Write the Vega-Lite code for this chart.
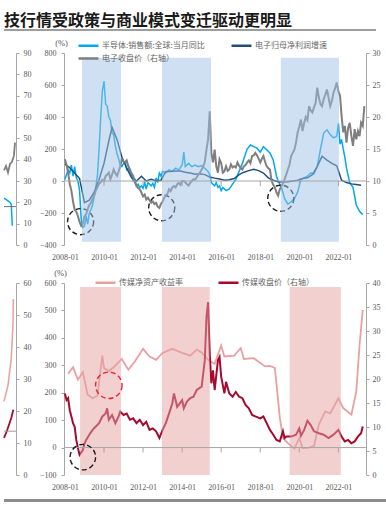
{
"$schema": "https://vega.github.io/schema/vega-lite/v6.json",
"padding": {"left": 0, "top": 12, "right": 0, "bottom": 0},
"background": "white",
"config": {
 "view": {"stroke": null},
 "axis": {"labelFont": "Liberation Serif", "labelFontSize": 8, "labelColor": "#595959", "domainColor": "#a6a6a6", "tickColor": "#a6a6a6", "tickSize": 3, "grid": false, "titleFont": "Liberation Serif"}
},
"datasets": {
 "top": [
{"d":"2008-01","s":"a","v":10},{"d":"2008-02","s":"a","v":40},{"d":"2008-03","s":"a","v":70},{"d":"2008-04","s":"a","v":50},{"d":"2008-05","s":"a","v":100},{"d":"2008-06","s":"a","v":30},{"d":"2008-07","s":"a","v":90},{"d":"2008-08","s":"a","v":20},{"d":"2008-09","s":"a","v":0},{"d":"2008-10","s":"a","v":-60},{"d":"2008-11","s":"a","v":-240},{"d":"2008-12","s":"a","v":-290},
{"d":"2009-01","s":"a","v":-280},{"d":"2009-02","s":"a","v":-220},{"d":"2009-03","s":"a","v":-270},{"d":"2009-04","s":"a","v":-200},{"d":"2009-05","s":"a","v":-180},{"d":"2009-06","s":"a","v":-150},{"d":"2009-07","s":"a","v":-100},{"d":"2009-08","s":"a","v":-40},{"d":"2009-09","s":"a","v":40},{"d":"2009-10","s":"a","v":200},{"d":"2009-11","s":"a","v":400},{"d":"2009-12","s":"a","v":560},
{"d":"2010-01","s":"a","v":625},{"d":"2010-02","s":"a","v":480},{"d":"2010-03","s":"a","v":470},{"d":"2010-04","s":"a","v":400},{"d":"2010-05","s":"a","v":380},{"d":"2010-06","s":"a","v":300},{"d":"2010-07","s":"a","v":290},{"d":"2010-08","s":"a","v":220},{"d":"2010-09","s":"a","v":170},{"d":"2010-10","s":"a","v":140},{"d":"2010-11","s":"a","v":100},{"d":"2010-12","s":"a","v":90},
{"d":"2011-01","s":"a","v":110},{"d":"2011-02","s":"a","v":120},{"d":"2011-03","s":"a","v":70},{"d":"2011-04","s":"a","v":80},{"d":"2011-05","s":"a","v":50},{"d":"2011-06","s":"a","v":40},{"d":"2011-07","s":"a","v":0},{"d":"2011-08","s":"a","v":10},{"d":"2011-09","s":"a","v":-30},{"d":"2011-10","s":"a","v":-20},{"d":"2011-11","s":"a","v":-40},{"d":"2011-12","s":"a","v":-30},
{"d":"2012-01","s":"a","v":-45},{"d":"2012-02","s":"a","v":-10},{"d":"2012-03","s":"a","v":-50},{"d":"2012-04","s":"a","v":-10},{"d":"2012-05","s":"a","v":-20},{"d":"2012-06","s":"a","v":-30},{"d":"2012-07","s":"a","v":-15},{"d":"2012-08","s":"a","v":-40},{"d":"2012-09","s":"a","v":20},{"d":"2012-10","s":"a","v":-10},{"d":"2012-11","s":"a","v":50},{"d":"2012-12","s":"a","v":30},
{"d":"2013-01","s":"a","v":60},{"d":"2013-03","s":"a","v":50},{"d":"2013-05","s":"a","v":70},{"d":"2013-07","s":"a","v":60},{"d":"2013-09","s":"a","v":80},{"d":"2013-11","s":"a","v":70},{"d":"2014-01","s":"a","v":100},{"d":"2014-02","s":"a","v":180},{"d":"2014-03","s":"a","v":90},{"d":"2014-05","s":"a","v":110},{"d":"2014-07","s":"a","v":90},{"d":"2014-09","s":"a","v":100},{"d":"2014-11","s":"a","v":90},
{"d":"2015-01","s":"a","v":95},{"d":"2015-03","s":"a","v":80},{"d":"2015-05","s":"a","v":60},{"d":"2015-06","s":"a","v":40},{"d":"2015-07","s":"a","v":-10},{"d":"2015-08","s":"a","v":-20},{"d":"2015-09","s":"a","v":-30},{"d":"2015-10","s":"a","v":-10},{"d":"2015-11","s":"a","v":-40},{"d":"2015-12","s":"a","v":-30},
{"d":"2016-01","s":"a","v":-60},{"d":"2016-02","s":"a","v":-40},{"d":"2016-04","s":"a","v":-60},{"d":"2016-06","s":"a","v":-50},{"d":"2016-08","s":"a","v":-20},{"d":"2016-10","s":"a","v":10},{"d":"2016-12","s":"a","v":60},
{"d":"2017-02","s":"a","v":110},{"d":"2017-03","s":"a","v":140},{"d":"2017-05","s":"a","v":200},{"d":"2017-07","s":"a","v":225},{"d":"2017-09","s":"a","v":215},{"d":"2017-11","s":"a","v":205},
{"d":"2018-01","s":"a","v":180},{"d":"2018-03","s":"a","v":215},{"d":"2018-05","s":"a","v":195},{"d":"2018-07","s":"a","v":175},{"d":"2018-09","s":"a","v":130},{"d":"2018-11","s":"a","v":30},{"d":"2018-12","s":"a","v":0},
{"d":"2019-02","s":"a","v":-40},{"d":"2019-04","s":"a","v":-110},{"d":"2019-06","s":"a","v":-145},{"d":"2019-08","s":"a","v":-130},{"d":"2019-10","s":"a","v":-110},{"d":"2019-12","s":"a","v":-70},
{"d":"2020-02","s":"a","v":10},{"d":"2020-04","s":"a","v":20},{"d":"2020-06","s":"a","v":30},{"d":"2020-08","s":"a","v":50},{"d":"2020-10","s":"a","v":45},{"d":"2020-12","s":"a","v":90},
{"d":"2021-02","s":"a","v":200},{"d":"2021-04","s":"a","v":300},{"d":"2021-06","s":"a","v":320},{"d":"2021-08","s":"a","v":290},{"d":"2021-10","s":"a","v":270},{"d":"2021-12","s":"a","v":280},
{"d":"2022-01","s":"a","v":360},{"d":"2022-02","s":"a","v":230},{"d":"2022-03","s":"a","v":260},{"d":"2022-04","s":"a","v":200},{"d":"2022-05","s":"a","v":150},{"d":"2022-06","s":"a","v":80},{"d":"2022-08","s":"a","v":-10},{"d":"2022-10","s":"a","v":-40},{"d":"2022-12","s":"a","v":-150},{"d":"2023-02","s":"a","v":-190},{"d":"2023-04","s":"a","v":-210},
{"d":"2008-01","s":"b","v":105},{"d":"2008-04","s":"b","v":83},{"d":"2008-07","s":"b","v":50},{"d":"2008-10","s":"b","v":15},{"d":"2009-01","s":"b","v":-135},{"d":"2009-04","s":"b","v":-120},{"d":"2009-07","s":"b","v":-70},{"d":"2009-10","s":"b","v":10},
{"d":"2010-01","s":"b","v":110},{"d":"2010-04","s":"b","v":250},{"d":"2010-06","s":"b","v":335},{"d":"2010-09","s":"b","v":260},{"d":"2010-12","s":"b","v":150},{"d":"2011-03","s":"b","v":80},{"d":"2011-06","s":"b","v":20},{"d":"2011-09","s":"b","v":0},{"d":"2011-12","s":"b","v":30},
{"d":"2012-03","s":"b","v":0},{"d":"2012-06","s":"b","v":10},{"d":"2012-09","s":"b","v":0},{"d":"2012-12","s":"b","v":5},{"d":"2013-03","s":"b","v":60},{"d":"2013-06","s":"b","v":60},{"d":"2013-09","s":"b","v":63},{"d":"2013-12","s":"b","v":63},
{"d":"2014-03","s":"b","v":55},{"d":"2014-06","s":"b","v":50},{"d":"2014-09","s":"b","v":42},{"d":"2014-12","s":"b","v":45},{"d":"2015-03","s":"b","v":40},{"d":"2015-06","s":"b","v":25},{"d":"2015-09","s":"b","v":18},{"d":"2015-12","s":"b","v":12},
{"d":"2016-03","s":"b","v":5},{"d":"2016-06","s":"b","v":8},{"d":"2016-09","s":"b","v":15},{"d":"2016-12","s":"b","v":40},{"d":"2017-03","s":"b","v":55},{"d":"2017-06","s":"b","v":65},{"d":"2017-09","s":"b","v":73},{"d":"2017-12","s":"b","v":65},
{"d":"2018-03","s":"b","v":50},{"d":"2018-06","s":"b","v":20},{"d":"2018-09","s":"b","v":5},{"d":"2018-12","s":"b","v":-5},{"d":"2019-03","s":"b","v":-6},{"d":"2019-06","s":"b","v":-5},{"d":"2019-09","s":"b","v":0},{"d":"2019-12","s":"b","v":5},
{"d":"2020-03","s":"b","v":15},{"d":"2020-06","s":"b","v":20},{"d":"2020-09","s":"b","v":40},{"d":"2020-12","s":"b","v":90},{"d":"2021-03","s":"b","v":155},{"d":"2021-06","s":"b","v":130},{"d":"2021-09","s":"b","v":110},{"d":"2021-12","s":"b","v":95},
{"d":"2022-03","s":"b","v":5},{"d":"2022-06","s":"b","v":-10},{"d":"2022-09","s":"b","v":-18},{"d":"2022-12","s":"b","v":-22},{"d":"2023-03","s":"b","v":-27},
{"d":"2008-01","s":"c","v":13.4},{"d":"2008-02","s":"c","v":12.5},{"d":"2008-03","s":"c","v":11.3},{"d":"2008-04","s":"c","v":9.5},{"d":"2008-05","s":"c","v":8.5},{"d":"2008-06","s":"c","v":6.8},{"d":"2008-07","s":"c","v":5.5},{"d":"2008-08","s":"c","v":5.2},{"d":"2008-09","s":"c","v":4.5},{"d":"2008-10","s":"c","v":3.6},{"d":"2008-11","s":"c","v":3.0},{"d":"2008-12","s":"c","v":3.3},
{"d":"2009-01","s":"c","v":4.5},{"d":"2009-02","s":"c","v":4.8},{"d":"2009-03","s":"c","v":5.6},{"d":"2009-04","s":"c","v":6.2},{"d":"2009-05","s":"c","v":6.6},{"d":"2009-06","s":"c","v":7.2},{"d":"2009-07","s":"c","v":7.7},{"d":"2009-08","s":"c","v":8.5},{"d":"2009-09","s":"c","v":9.0},{"d":"2009-10","s":"c","v":9.6},{"d":"2009-11","s":"c","v":9.8},{"d":"2009-12","s":"c","v":10.2},
{"d":"2010-01","s":"c","v":10.0},{"d":"2010-02","s":"c","v":10.8},{"d":"2010-03","s":"c","v":11.0},{"d":"2010-04","s":"c","v":11.3},{"d":"2010-05","s":"c","v":10.3},{"d":"2010-06","s":"c","v":11.0},{"d":"2010-07","s":"c","v":11.8},{"d":"2010-08","s":"c","v":11.2},{"d":"2010-09","s":"c","v":10.8},{"d":"2010-10","s":"c","v":11.5},{"d":"2010-11","s":"c","v":12.3},{"d":"2010-12","s":"c","v":13.4},
{"d":"2011-01","s":"c","v":13.0},{"d":"2011-02","s":"c","v":12.9},{"d":"2011-03","s":"c","v":13.2},{"d":"2011-04","s":"c","v":12.3},{"d":"2011-05","s":"c","v":11.8},{"d":"2011-06","s":"c","v":11.2},{"d":"2011-07","s":"c","v":10.8},{"d":"2011-08","s":"c","v":9.8},{"d":"2011-09","s":"c","v":9.2},{"d":"2011-10","s":"c","v":8.9},{"d":"2011-11","s":"c","v":8.7},{"d":"2011-12","s":"c","v":8.2},
{"d":"2012-01","s":"c","v":7.6},{"d":"2012-02","s":"c","v":7.9},{"d":"2012-03","s":"c","v":7.1},{"d":"2012-04","s":"c","v":7.4},{"d":"2012-05","s":"c","v":7.0},{"d":"2012-06","s":"c","v":6.6},{"d":"2012-07","s":"c","v":6.8},{"d":"2012-08","s":"c","v":6.4},{"d":"2012-09","s":"c","v":6.6},{"d":"2012-10","s":"c","v":6.0},{"d":"2012-11","s":"c","v":5.8},{"d":"2012-12","s":"c","v":6.4},
{"d":"2013-01","s":"c","v":6.8},{"d":"2013-02","s":"c","v":7.4},{"d":"2013-03","s":"c","v":7.7},{"d":"2013-04","s":"c","v":8.0},{"d":"2013-05","s":"c","v":8.7},{"d":"2013-06","s":"c","v":8.4},{"d":"2013-07","s":"c","v":9.0},{"d":"2013-08","s":"c","v":9.2},{"d":"2013-09","s":"c","v":9.0},{"d":"2013-10","s":"c","v":9.5},{"d":"2013-11","s":"c","v":9.7},{"d":"2013-12","s":"c","v":9.4},
{"d":"2014-01","s":"c","v":10.0},{"d":"2014-02","s":"c","v":10.0},{"d":"2014-03","s":"c","v":9.8},{"d":"2014-04","s":"c","v":9.5},{"d":"2014-05","s":"c","v":9.3},{"d":"2014-06","s":"c","v":9.7},{"d":"2014-07","s":"c","v":10.0},{"d":"2014-08","s":"c","v":10.3},{"d":"2014-09","s":"c","v":10.2},{"d":"2014-10","s":"c","v":10.6},{"d":"2014-11","s":"c","v":11.0},{"d":"2014-12","s":"c","v":11.3},
{"d":"2015-01","s":"c","v":11.8},{"d":"2015-02","s":"c","v":12.3},{"d":"2015-03","s":"c","v":13.0},{"d":"2015-04","s":"c","v":14.9},{"d":"2015-05","s":"c","v":16.5},{"d":"2015-06","s":"c","v":20.9},{"d":"2015-07","s":"c","v":14.4},{"d":"2015-08","s":"c","v":12.9},{"d":"2015-09","s":"c","v":14.9},{"d":"2015-10","s":"c","v":12.3},{"d":"2015-11","s":"c","v":11.3},{"d":"2015-12","s":"c","v":13.4},
{"d":"2016-01","s":"c","v":12.8},{"d":"2016-02","s":"c","v":11.3},{"d":"2016-03","s":"c","v":11.5},{"d":"2016-04","s":"c","v":12.3},{"d":"2016-05","s":"c","v":11.6},{"d":"2016-06","s":"c","v":11.8},{"d":"2016-07","s":"c","v":12.6},{"d":"2016-08","s":"c","v":12.1},{"d":"2016-09","s":"c","v":12.3},{"d":"2016-10","s":"c","v":12.1},{"d":"2016-11","s":"c","v":12.9},{"d":"2016-12","s":"c","v":12.4},
{"d":"2017-01","s":"c","v":12.0},{"d":"2017-02","s":"c","v":11.8},{"d":"2017-03","s":"c","v":12.3},{"d":"2017-04","s":"c","v":12.5},{"d":"2017-05","s":"c","v":12.9},{"d":"2017-06","s":"c","v":13.2},{"d":"2017-07","s":"c","v":12.8},{"d":"2017-08","s":"c","v":13.9},{"d":"2017-09","s":"c","v":14.0},{"d":"2017-10","s":"c","v":14.4},{"d":"2017-11","s":"c","v":14.0},{"d":"2017-12","s":"c","v":13.5},
{"d":"2018-01","s":"c","v":12.9},{"d":"2018-02","s":"c","v":13.5},{"d":"2018-03","s":"c","v":13.9},{"d":"2018-04","s":"c","v":13.0},{"d":"2018-05","s":"c","v":12.3},{"d":"2018-06","s":"c","v":12.0},{"d":"2018-07","s":"c","v":11.8},{"d":"2018-08","s":"c","v":10.0},{"d":"2018-09","s":"c","v":9.4},{"d":"2018-10","s":"c","v":9.0},{"d":"2018-11","s":"c","v":8.2},{"d":"2018-12","s":"c","v":7.7},
{"d":"2019-01","s":"c","v":8.7},{"d":"2019-02","s":"c","v":9.2},{"d":"2019-03","s":"c","v":9.6},{"d":"2019-04","s":"c","v":10.3},{"d":"2019-05","s":"c","v":11.0},{"d":"2019-06","s":"c","v":11.8},{"d":"2019-07","s":"c","v":12.5},{"d":"2019-08","s":"c","v":13.9},{"d":"2019-09","s":"c","v":14.4},{"d":"2019-10","s":"c","v":14.9},{"d":"2019-11","s":"c","v":16.0},{"d":"2019-12","s":"c","v":17.6},
{"d":"2020-01","s":"c","v":18.5},{"d":"2020-02","s":"c","v":19.6},{"d":"2020-03","s":"c","v":17.8},{"d":"2020-04","s":"c","v":19.1},{"d":"2020-05","s":"c","v":20.0},{"d":"2020-06","s":"c","v":19.5},{"d":"2020-07","s":"c","v":21.7},{"d":"2020-08","s":"c","v":21.0},{"d":"2020-09","s":"c","v":20.7},{"d":"2020-10","s":"c","v":21.5},{"d":"2020-11","s":"c","v":22.2},{"d":"2020-12","s":"c","v":24.6},
{"d":"2021-01","s":"c","v":23.0},{"d":"2021-02","s":"c","v":22.0},{"d":"2021-03","s":"c","v":21.7},{"d":"2021-04","s":"c","v":22.8},{"d":"2021-05","s":"c","v":23.5},{"d":"2021-06","s":"c","v":24.3},{"d":"2021-07","s":"c","v":23.0},{"d":"2021-08","s":"c","v":21.7},{"d":"2021-09","s":"c","v":22.5},{"d":"2021-10","s":"c","v":23.8},{"d":"2021-11","s":"c","v":24.5},{"d":"2021-12","s":"c","v":25.4},
{"d":"2022-01","s":"c","v":24.0},{"d":"2022-02","s":"c","v":23.3},{"d":"2022-03","s":"c","v":20.2},{"d":"2022-04","s":"c","v":17.6},{"d":"2022-05","s":"c","v":18.6},{"d":"2022-06","s":"c","v":16.0},{"d":"2022-07","s":"c","v":18.3},{"d":"2022-08","s":"c","v":19.1},{"d":"2022-09","s":"c","v":17.0},{"d":"2022-10","s":"c","v":15.5},{"d":"2022-11","s":"c","v":18.1},{"d":"2022-12","s":"c","v":16.5},
{"d":"2023-01","s":"c","v":17.8},{"d":"2023-02","s":"c","v":17.0},{"d":"2023-03","s":"c","v":19.1},{"d":"2023-04","s":"c","v":18.6},{"d":"2023-05","s":"c","v":21.7}
 ],
 "bot": [
{"d":"2008-03","s":"p","v":269},{"d":"2008-06","s":"p","v":293},{"d":"2008-09","s":"p","v":247},{"d":"2008-12","s":"p","v":275},{"d":"2009-03","s":"p","v":193},{"d":"2009-06","s":"p","v":180},{"d":"2009-09","s":"p","v":189},{"d":"2009-12","s":"p","v":335},{"d":"2010-01","s":"p","v":290},{"d":"2010-04","s":"p","v":279},{"d":"2010-07","s":"p","v":293},{"d":"2010-12","s":"p","v":323},
{"d":"2011-04","s":"p","v":284},{"d":"2011-08","s":"p","v":314},{"d":"2012-01","s":"p","v":360},{"d":"2012-05","s":"p","v":332},{"d":"2012-09","s":"p","v":320},{"d":"2013-01","s":"p","v":345},{"d":"2013-07","s":"p","v":360},{"d":"2014-01","s":"p","v":345},{"d":"2014-06","s":"p","v":335},{"d":"2014-10","s":"p","v":357},
{"d":"2015-01","s":"p","v":347},{"d":"2015-05","s":"p","v":320},{"d":"2015-09","s":"p","v":305},{"d":"2016-01","s":"p","v":372},{"d":"2016-03","s":"p","v":332},{"d":"2016-09","s":"p","v":335},{"d":"2017-01","s":"p","v":363},{"d":"2017-03","s":"p","v":323},{"d":"2017-09","s":"p","v":326},{"d":"2018-04","s":"p","v":296},{"d":"2018-07","s":"p","v":298},{"d":"2018-10","s":"p","v":290},
{"d":"2019-01","s":"p","v":110},{"d":"2019-03","s":"p","v":35},{"d":"2019-06","s":"p","v":16},{"d":"2019-10","s":"p","v":-4},{"d":"2020-01","s":"p","v":35},{"d":"2020-03","s":"p","v":-2},{"d":"2020-07","s":"p","v":0},{"d":"2020-10","s":"p","v":5},{"d":"2021-01","s":"p","v":85},{"d":"2021-05","s":"p","v":132},{"d":"2021-08","s":"p","v":125},{"d":"2022-01","s":"p","v":180},{"d":"2022-04","s":"p","v":144},{"d":"2022-09","s":"p","v":120},{"d":"2022-12","s":"p","v":205},{"d":"2023-02","s":"p","v":375},{"d":"2023-04","s":"p","v":502},
{"d":"2008-01","s":"r","v":17.0},{"d":"2008-02","s":"r","v":15.6},{"d":"2008-03","s":"r","v":16.0},{"d":"2008-04","s":"r","v":13.5},{"d":"2008-05","s":"r","v":12.2},{"d":"2008-06","s":"r","v":10.8},{"d":"2008-07","s":"r","v":10.1},{"d":"2008-08","s":"r","v":7.3},{"d":"2008-09","s":"r","v":5.6},{"d":"2008-10","s":"r","v":4.2},{"d":"2008-12","s":"r","v":5.2},
{"d":"2009-01","s":"r","v":6.5},{"d":"2009-02","s":"r","v":7.3},{"d":"2009-04","s":"r","v":8.4},{"d":"2009-06","s":"r","v":9.4},{"d":"2009-08","s":"r","v":10.1},{"d":"2009-10","s":"r","v":10.8},{"d":"2009-12","s":"r","v":12.2},{"d":"2010-02","s":"r","v":12.8},{"d":"2010-03","s":"r","v":13.9},{"d":"2010-04","s":"r","v":11.5},{"d":"2010-06","s":"r","v":12.5},{"d":"2010-08","s":"r","v":10.8},{"d":"2010-10","s":"r","v":12.2},{"d":"2010-11","s":"r","v":13.2},
{"d":"2011-01","s":"r","v":12.5},{"d":"2011-03","s":"r","v":12.8},{"d":"2011-05","s":"r","v":11.5},{"d":"2011-07","s":"r","v":11.8},{"d":"2011-09","s":"r","v":10.8},{"d":"2011-11","s":"r","v":11.5},{"d":"2012-01","s":"r","v":10.4},{"d":"2012-03","s":"r","v":11.1},{"d":"2012-05","s":"r","v":9.4},{"d":"2012-07","s":"r","v":9.7},{"d":"2012-09","s":"r","v":9.1},{"d":"2012-11","s":"r","v":7.7},
{"d":"2013-01","s":"r","v":9.4},{"d":"2013-03","s":"r","v":10.8},{"d":"2013-05","s":"r","v":12.8},{"d":"2013-07","s":"r","v":14.9},{"d":"2013-08","s":"r","v":17.0},{"d":"2013-10","s":"r","v":14.2},{"d":"2014-01","s":"r","v":15.6},{"d":"2014-02","s":"r","v":13.9},{"d":"2014-04","s":"r","v":15.3},{"d":"2014-06","s":"r","v":16.0},{"d":"2014-08","s":"r","v":16.3},{"d":"2014-10","s":"r","v":17.7},
{"d":"2015-01","s":"r","v":18.4},{"d":"2015-03","s":"r","v":23.9},{"d":"2015-04","s":"r","v":32.9},{"d":"2015-05","s":"r","v":36.0},{"d":"2015-06","s":"r","v":25.3},{"d":"2015-07","s":"r","v":19.1},{"d":"2015-08","s":"r","v":21.8},{"d":"2015-09","s":"r","v":17.7},{"d":"2015-11","s":"r","v":23.9},{"d":"2015-12","s":"r","v":24.6},
{"d":"2016-01","s":"r","v":20.5},{"d":"2016-03","s":"r","v":17.0},{"d":"2016-04","s":"r","v":19.4},{"d":"2016-06","s":"r","v":17.0},{"d":"2016-08","s":"r","v":16.3},{"d":"2016-10","s":"r","v":17.3},{"d":"2016-12","s":"r","v":16.3},{"d":"2017-02","s":"r","v":16.0},{"d":"2017-04","s":"r","v":14.6},{"d":"2017-06","s":"r","v":13.9},{"d":"2017-08","s":"r","v":12.5},{"d":"2017-10","s":"r","v":12.2},
{"d":"2018-01","s":"r","v":11.8},{"d":"2018-03","s":"r","v":12.2},{"d":"2018-05","s":"r","v":10.8},{"d":"2018-07","s":"r","v":9.4},{"d":"2018-09","s":"r","v":8.4},{"d":"2018-11","s":"r","v":7.3},{"d":"2019-01","s":"r","v":7.0},{"d":"2019-03","s":"r","v":9.1},{"d":"2019-04","s":"r","v":7.7},{"d":"2019-05","s":"r","v":8.0},{"d":"2019-08","s":"r","v":8.0},{"d":"2019-11","s":"r","v":8.4},
{"d":"2020-01","s":"r","v":9.7},{"d":"2020-02","s":"r","v":8.2},{"d":"2020-04","s":"r","v":9.4},{"d":"2020-06","s":"r","v":11.3},{"d":"2020-08","s":"r","v":10.4},{"d":"2020-10","s":"r","v":9.1},{"d":"2021-01","s":"r","v":8.7},{"d":"2021-04","s":"r","v":8.4},{"d":"2021-07","s":"r","v":7.7},{"d":"2021-10","s":"r","v":8.4},
{"d":"2022-01","s":"r","v":9.4},{"d":"2022-03","s":"r","v":8.0},{"d":"2022-05","s":"r","v":7.0},{"d":"2022-07","s":"r","v":7.3},{"d":"2022-09","s":"r","v":6.6},{"d":"2022-11","s":"r","v":7.0},{"d":"2023-01","s":"r","v":8.0},{"d":"2023-03","s":"r","v":8.7},{"d":"2023-04","s":"r","v":10.1}
 ],
 "fragTopA": [{"i":0,"v":22},{"i":3,"v":21},{"i":6,"v":20},{"i":7.3,"v":19},{"i":8.3,"v":9}],
 "fragTopC": [{"i":0,"v":35},{"i":2,"v":37},{"i":4,"v":34},{"i":6,"v":38},{"i":8,"v":39},{"i":10,"v":42},{"i":11,"v":48}],
 "fragBotP": [{"i":0,"v":23},{"i":4,"v":28},{"i":7.3,"v":36.6},{"i":9,"v":47},{"i":9.3,"v":55}],
 "fragBotR": [{"i":0,"v":11.6},{"i":2.7,"v":13.6},{"i":5,"v":15.7},{"i":7.3,"v":17.8},{"i":9.3,"v":20.4}],
 "shadeTop": [{"d":"2008-11-15","d2":"2010-11-15"},{"d":"2012-12-20","d2":"2015-06-25"},{"d":"2019-01-20","d2":"2022-01-10"}],
 "shadeBot": [{"d":"2008-10-10","d2":"2010-11-15"},{"d":"2012-12-20","d2":"2015-06-01"},{"d":"2019-07-05","d2":"2022-02-15"}],
 "ticks": [{"d":"2010-01"},{"d":"2012-01"},{"d":"2014-01"},{"d":"2016-01"},{"d":"2018-01"},{"d":"2020-01"},{"d":"2022-01"}],
 "circTop": [{"d":"2008-10-20","v":-254},{"d":"2012-12-15","v":-167},{"d":"2019-01-20","v":-108}],
 "circRed": [{"d":"2010-04-01","v":227}],
 "circBlack": [{"d":"2008-12-01","v":-35}]
},
"spacing": 7,
"bounds": "full",
"resolve": {"scale": {"color": "independent"}, "legend": {"color": "independent"}},
"vconcat": [
 {
  "title": {"text": "技行情受政策与商业模式变迁驱动更明显", "anchor": "start", "frame": "group", "font": "Noto Sans CJK SC", "fontSize": 16, "fontWeight": "bold", "color": "#1a1a1a", "offset": 0},
  "width": 372, "height": 2,
  "view": {"fill": "#9d9d9d", "stroke": null},
  "data": {"values": [{}]},
  "mark": {"type": "rule", "opacity": 0},
  "encoding": {}
 },
 {
  "bounds": "flush",
  "spacing": 48,
  "hconcat": [
   {
    "width": 12, "height": 192,
    "layer": [
     {"data": {"name": "fragTopA"}, "mark": {"type": "line", "strokeWidth": 1.5, "color": "#00a9ee"},
      "encoding": {
       "x": {"field": "i", "type": "quantitative", "scale": {"domain": [0, 12]}, "axis": null},
       "y": {"field": "v", "type": "quantitative", "scale": {"domain": [0, 90], "nice": false}, "axis": {"orient": "right", "values": [0,10,20,30,40,50,60,70,80,90], "title": null, "labelPadding": 4}}
      }},
     {"data": {"name": "fragTopC"}, "mark": {"type": "line", "strokeWidth": 1.8, "color": "#7f7f7f"},
      "encoding": {
       "x": {"field": "i", "type": "quantitative", "scale": {"domain": [0, 12]}, "axis": null},
       "y": {"field": "v", "type": "quantitative", "scale": {"domain": [0, 90], "nice": false}, "axis": {"orient": "right", "values": [0,10,20,30,40,50,60,70,80,90], "title": null, "labelPadding": 4}}
      }},
     {"data": {"values": [{}]}, "mark": {"type": "rule", "color": "#6f6f6f", "strokeWidth": 1}, "encoding": {"y": {"datum": 18, "type": "quantitative", "axis": {"orient": "right", "values": [0,10,20,30,40,50,60,70,80,90], "title": null, "labelPadding": 4}}}}
    ]
   },
   {
    "width": 302, "height": 192,
    "layer": [
     {"layer": [
       {"data": {"name": "top"}, "transform": [{"filter": "datum.s != 'c'"}], "mark": {"type": "line", "strokeWidth": 1.5},
        "encoding": {
         "x": {"field": "d", "type": "temporal", "scale": {"type": "utc", "domain": [{"year": 2007, "month": 12, "date": 15, "utc": true}, {"year": 2023, "month": 6, "date": 1, "utc": true}]}, "axis": {"format": "%Y-%m", "tickCount": {"interval": "year", "step": 2}, "domain": false, "ticks": false, "labelPadding": 8, "title": null, "labelOverlap": false, "labelFlush": false}},
         "y": {"field": "v", "type": "quantitative", "scale": {"domain": [-400, 800], "nice": false}, "axis": {"orient": "left", "values": [-400,-200,0,200,400,600,800], "title": "(%)", "titleAngle": 0, "titleX": -3, "titleY": -11, "titleAlign": "center", "titleBaseline": "middle", "titleFontSize": 8.5, "titleFontWeight": "normal", "titleColor": "#595959", "labelPadding": 5}},
         "color": {"field": "s", "type": "nominal", "scale": {"domain": ["a","b","c"], "range": ["#00a9ee","#1f4e79","#7f7f7f"]},
          "legend": {"title": null, "orient": "none", "direction": "horizontal", "legendX": 78, "legendY": -14, "columns": 2, "columnPadding": 21, "rowPadding": 1, "symbolType": "M-2,0H2", "symbolSize": 100, "symbolStrokeWidth": 2.5, "labelFont": "Noto Sans CJK SC", "labelFontSize": 8, "labelColor": "#666666", "labelOffset": 7, "padding": 0,
           "labelExpr": "datum.label == 'a' ? '半导体:销售额:全球:当月同比' : datum.label == 'b' ? '电子归母净利润增速' : '电子收盘价（右轴）'"}}
        }},
       {"data": {"name": "circTop"}, "mark": {"type": "point", "shape": "circle", "filled": false, "size": 680, "strokeDash": [5,3], "strokeWidth": 1.4, "color": "#1a1a1a", "opacity": 1},
        "encoding": {
         "x": {"field": "d", "type": "temporal"},
         "y": {"field": "v", "type": "quantitative", "axis": {"orient": "left", "values": [-400,-200,0,200,400,600,800], "title": "(%)", "titleAngle": 0, "titleX": -3, "titleY": -11, "titleAlign": "center", "titleBaseline": "middle", "titleFontSize": 8.5, "titleFontWeight": "normal", "titleColor": "#595959", "labelPadding": 5}}
        }}
     ]},
     {"data": {"name": "top"}, "transform": [{"filter": "datum.s == 'c'"}], "mark": {"type": "line", "strokeWidth": 2},
      "encoding": {
       "x": {"field": "d", "type": "temporal"},
       "y": {"field": "v", "type": "quantitative", "scale": {"domain": [0, 30], "nice": false}, "axis": {"orient": "right", "values": [0,5,10,15,20,25,30], "title": null, "labelPadding": 3}},
       "color": {"field": "s", "type": "nominal"}
      }},
     {"layer": [
       {"data": {"name": "shadeTop"}, "mark": {"type": "rect", "color": "#9fc1e5", "opacity": 0.5},
        "encoding": {
         "x": {"field": "d", "type": "temporal"},
         "x2": {"field": "d2"},
         "y": {"datum": 770, "type": "quantitative", "scale": {"domain": [-400, 800], "nice": false}, "axis": null},
         "y2": {"datum": -380}
        }},
       {"data": {"values": [{}]}, "mark": {"type": "rule", "color": "#a6a6a6", "strokeWidth": 1}, "encoding": {"y": {"datum": 0, "type": "quantitative", "axis": null}}},
       {"data": {"name": "ticks"}, "mark": {"type": "tick", "orient": "vertical", "size": 5, "thickness": 1, "color": "#a6a6a6", "opacity": 1, "yOffset": 2.5},
        "encoding": {"x": {"field": "d", "type": "temporal"}, "y": {"datum": 0, "type": "quantitative", "axis": null}}}
     ]}
    ],
    "resolve": {"scale": {"y": "independent"}}
   }
  ]
 },
 {
  "bounds": "flush",
  "spacing": 48,
  "hconcat": [
   {
    "width": 12, "height": 192,
    "layer": [
     {"data": {"name": "fragBotP"}, "mark": {"type": "line", "strokeWidth": 1.5, "color": "#e8a0a0"},
      "encoding": {
       "x": {"field": "i", "type": "quantitative", "scale": {"domain": [0, 12]}, "axis": null},
       "y": {"field": "v", "type": "quantitative", "scale": {"domain": [0, 60], "nice": false}, "axis": {"orient": "right", "values": [0,10,20,30,40,50,60], "title": null, "labelPadding": 4}}
      }},
     {"data": {"name": "fragBotR"}, "mark": {"type": "line", "strokeWidth": 1.8, "color": "#a50a2e"},
      "encoding": {
       "x": {"field": "i", "type": "quantitative", "scale": {"domain": [0, 12]}, "axis": null},
       "y": {"field": "v", "type": "quantitative", "scale": {"domain": [0, 60], "nice": false}, "axis": {"orient": "right", "values": [0,10,20,30,40,50,60], "title": null, "labelPadding": 4}}
      }},
     {"data": {"values": [{}]}, "mark": {"type": "rule", "color": "#9a9a9a", "strokeWidth": 1}, "encoding": {"y": {"datum": 13.7, "type": "quantitative", "axis": {"orient": "right", "values": [0,10,20,30,40,50,60], "title": null, "labelPadding": 4}}}}
    ]
   },
   {
    "width": 302, "height": 192,
    "layer": [
     {"data": {"name": "bot"}, "transform": [{"filter": "datum.s == 'p'"}], "mark": {"type": "line", "strokeWidth": 1.8},
      "encoding": {
       "x": {"field": "d", "type": "temporal", "scale": {"type": "utc", "domain": [{"year": 2007, "month": 12, "date": 15, "utc": true}, {"year": 2023, "month": 6, "date": 1, "utc": true}]}, "axis": {"format": "%Y-%m", "tickCount": {"interval": "year", "step": 2}, "domain": false, "ticks": false, "labelPadding": 8, "title": null, "labelOverlap": false, "labelFlush": false}},
       "y": {"field": "v", "type": "quantitative", "scale": {"domain": [-100, 600], "nice": false}, "axis": {"orient": "left", "values": [-100,0,100,200,300,400,500,600], "title": "(%)", "titleAngle": 0, "titleX": -4, "titleY": -11, "titleAlign": "center", "titleBaseline": "middle", "titleFontSize": 8.5, "titleFontWeight": "normal", "titleColor": "#595959", "labelPadding": 5}},
       "color": {"field": "s", "type": "nominal", "scale": {"domain": ["p","r"], "range": ["#e8a0a0","#a50a2e"]},
        "legend": {"title": null, "orient": "none", "direction": "horizontal", "legendX": 95, "legendY": -7, "columns": 2, "columnPadding": 30, "rowPadding": 1, "symbolType": "M-2,0H2", "symbolSize": 100, "symbolStrokeWidth": 2.5, "labelFont": "Noto Sans CJK SC", "labelFontSize": 8, "labelColor": "#666666", "labelOffset": 7, "padding": 0,
         "labelExpr": "datum.label == 'p' ? '传媒净资产收益率' : '传媒收盘价（右轴）'"}}
      }},
     {"data": {"name": "bot"}, "transform": [{"filter": "datum.s == 'r'"}], "mark": {"type": "line", "strokeWidth": 2},
      "encoding": {
       "x": {"field": "d", "type": "temporal"},
       "y": {"field": "v", "type": "quantitative", "scale": {"domain": [0, 40], "nice": false}, "axis": {"orient": "right", "values": [0,5,10,15,20,25,30,35,40], "title": null, "labelPadding": 3}},
       "color": {"field": "s", "type": "nominal"}
      }},
     {"layer": [
       {"data": {"name": "shadeBot"}, "mark": {"type": "rect", "color": "#e5a1a1", "opacity": 0.5},
        "encoding": {
         "x": {"field": "d", "type": "temporal"},
         "x2": {"field": "d2"},
         "y": {"datum": 585, "type": "quantitative", "scale": {"domain": [-100, 600], "nice": false}, "axis": null},
         "y2": {"datum": -100}
        }},
       {"data": {"values": [{}]}, "mark": {"type": "rule", "color": "#a6a6a6", "strokeWidth": 1}, "encoding": {"y": {"datum": 0, "type": "quantitative", "axis": null}}},
       {"data": {"name": "ticks"}, "mark": {"type": "tick", "orient": "vertical", "size": 5, "thickness": 1, "color": "#a6a6a6", "opacity": 1, "yOffset": 2.5},
        "encoding": {"x": {"field": "d", "type": "temporal"}, "y": {"datum": 0, "type": "quantitative", "axis": null}}},
       {"data": {"name": "circRed"}, "mark": {"type": "point", "shape": "circle", "filled": false, "size": 700, "strokeDash": [5,3], "strokeWidth": 1.4, "color": "#e8262a", "opacity": 1},
        "encoding": {"x": {"field": "d", "type": "temporal"}, "y": {"field": "v", "type": "quantitative", "axis": null}}},
       {"data": {"name": "circBlack"}, "mark": {"type": "point", "shape": "circle", "filled": false, "size": 650, "strokeDash": [5,3], "strokeWidth": 1.4, "color": "#1a1a1a", "opacity": 1},
        "encoding": {"x": {"field": "d", "type": "temporal"}, "y": {"field": "v", "type": "quantitative", "axis": null}}}
     ]}
    ],
    "resolve": {"scale": {"y": "independent"}}
   }
  ]
 },
 {
  "width": 383, "height": 3,
  "view": {"fill": "#8c8c8c", "stroke": null},
  "data": {"values": [{}]},
  "mark": {"type": "rule", "opacity": 0},
  "encoding": {}
 }
]
}
